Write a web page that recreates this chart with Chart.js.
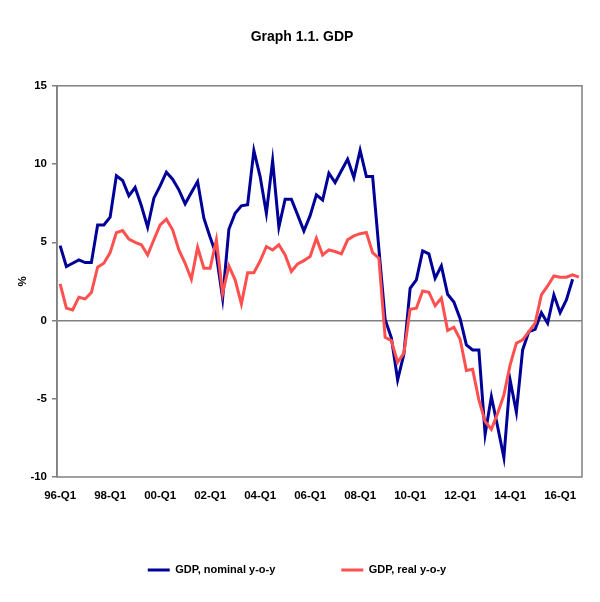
<!DOCTYPE html>
<html>
<head>
<meta charset="utf-8">
<title>Graph 1.1. GDP</title>
<script src="https://cdn.jsdelivr.net/npm/chart.js@4/dist/chart.umd.min.js"></script>
<style>
  html, body { margin: 0; padding: 0; background: #ffffff; }
  #wrap { position: relative; width: 600px; height: 602px; }
</style>
</head>
<body>
<div id="wrap"><canvas id="gdpChart" width="600" height="602"></canvas></div>
<script>
// quarters 96-Q1 .. 16-Q4
const quarters = [
  '96-Q1', '96-Q2', '96-Q3', '96-Q4', '97-Q1', '97-Q2', '97-Q3', '97-Q4',
  '98-Q1', '98-Q2', '98-Q3', '98-Q4', '99-Q1', '99-Q2', '99-Q3', '99-Q4',
  '00-Q1', '00-Q2', '00-Q3', '00-Q4', '01-Q1', '01-Q2', '01-Q3', '01-Q4',
  '02-Q1', '02-Q2', '02-Q3', '02-Q4', '03-Q1', '03-Q2', '03-Q3', '03-Q4',
  '04-Q1', '04-Q2', '04-Q3', '04-Q4', '05-Q1', '05-Q2', '05-Q3', '05-Q4',
  '06-Q1', '06-Q2', '06-Q3', '06-Q4', '07-Q1', '07-Q2', '07-Q3', '07-Q4',
  '08-Q1', '08-Q2', '08-Q3', '08-Q4', '09-Q1', '09-Q2', '09-Q3', '09-Q4',
  '10-Q1', '10-Q2', '10-Q3', '10-Q4', '11-Q1', '11-Q2', '11-Q3', '11-Q4',
  '12-Q1', '12-Q2', '12-Q3', '12-Q4', '13-Q1', '13-Q2', '13-Q3', '13-Q4',
  '14-Q1', '14-Q2', '14-Q3', '14-Q4', '15-Q1', '15-Q2', '15-Q3', '15-Q4',
  '16-Q1', '16-Q2', '16-Q3', '16-Q4'
];

// GDP, nominal y-o-y (%)
const nominalYoY = [
  4.79, 3.45, 3.66, 3.87, 3.70, 3.70, 6.11, 6.11, 6.60, 9.25,
  8.95, 7.97, 8.50, 7.33, 5.96, 7.82, 8.60, 9.48, 9.03, 8.35,
  7.46, 8.18, 8.88, 6.54, 5.32, 4.19, 1.42, 5.83, 6.86, 7.33,
  7.40, 10.86, 9.20, 6.86, 10.22, 5.96, 7.75, 7.75, 6.75, 5.73,
  6.70, 8.03, 7.70, 9.42, 8.82, 9.57, 10.31, 9.14, 10.88, 9.20,
  9.20, 4.60, 0.07, -1.10, -3.80, -2.15, 2.06, 2.60, 4.45, 4.26,
  2.70, 3.49, 1.68, 1.18, 0.12, -1.56, -1.88, -1.88, -7.27, -4.86,
  -6.78, -8.76, -3.80, -5.86, -1.88, -0.71, -0.56, 0.50, -0.17, 1.64,
  0.50, 1.32, 2.64
];

// GDP, real y-o-y (%)
const realYoY = [
  2.34, 0.79, 0.68, 1.49, 1.38, 1.79, 3.41, 3.66, 4.34, 5.62,
  5.75, 5.20, 4.99, 4.84, 4.19, 5.16, 6.11, 6.48, 5.80, 4.51,
  3.66, 2.64, 4.68, 3.34, 3.34, 5.16, 1.74, 3.49, 2.60, 1.06,
  3.06, 3.06, 3.80, 4.73, 4.51, 4.84, 4.19, 3.13, 3.62, 3.83,
  4.09, 5.26, 4.19, 4.51, 4.41, 4.26, 5.16, 5.41, 5.55, 5.62,
  4.34, 3.98, -1.07, -1.28, -2.67, -2.09, 0.72, 0.79, 1.89, 1.81,
  0.94, 1.43, -0.64, -0.43, -1.20, -3.20, -3.12, -5.08, -6.46, -6.95,
  -5.93, -4.76, -2.84, -1.45, -1.24, -0.71, -0.17, 1.64, 2.21, 2.85,
  2.77, 2.77, 2.92, 2.77
];

const yTicks = [-10, -5, 0, 5, 10, 15];
const xLabelEvery = 8;

const FONT = "'Liberation Sans', Arial, sans-serif";

// frame round the plot area, like the Excel plot border
const plotBorder = {
    id: 'plotBorder',
    afterLayout(chart) {
        // move the legend a little up and left, where Excel puts it
        const lg = chart.legend;
        if (lg) {
            lg.top -= 8.5;
            lg.bottom -= 8.5;
            lg.left -= 5;
            lg.right -= 5;
        }
    },
    afterDraw(chart) {
        const { ctx, chartArea } = chart;
        ctx.save();
        ctx.strokeStyle = '#808080';
        ctx.lineWidth = 1.5;
        ctx.strokeRect(chartArea.left, chartArea.top,
            chartArea.right - chartArea.left, chartArea.bottom - chartArea.top);
        ctx.restore();
    }
};

const ctx = document.getElementById('gdpChart');

new Chart(ctx, {
    type: 'line',
    data: {
        labels: quarters,
        datasets: [
            {
                label: 'GDP, nominal y-o-y',
                data: nominalYoY,
                borderColor: '#000099',
                backgroundColor: '#000099',
                borderWidth: 3,
                pointRadius: 0,
                tension: 0,
                order: 1
            },
            {
                label: 'GDP, real y-o-y',
                data: realYoY,
                borderColor: '#FF5050',
                backgroundColor: '#FF5050',
                borderWidth: 3,
                pointRadius: 0,
                tension: 0,
                order: 0
            }
        ]
    },
    options: {
        responsive: false,
        animation: false,
        layout: {
            padding: { left: 22, right: 18, top: 0, bottom: 8 }
        },
        scales: {
            x: {
                type: 'category',
                offset: true,
                grid: { display: false, drawTicks: false },
                border: { display: false },
                afterFit: (scale) => { scale.height = 30; },
                ticks: {
                    autoSkip: false,
                    maxRotation: 0,
                    minRotation: 0,
                    padding: 12,
                    color: '#000000',
                    font: { family: FONT, size: 11.5, weight: 'bold' },
                    callback: function (value, index) {
                        return index % xLabelEvery === 0 ? quarters[index] : '';
                    }
                }
            },
            y: {
                min: yTicks[0],
                max: yTicks[yTicks.length - 1],
                afterBuildTicks: (scale) => {
                    scale.ticks = yTicks.map(v => ({ value: v }));
                },
                afterFit: (scale) => { scale.width = 35; },
                grid: {
                    drawTicks: true,
                    tickLength: 5,
                    tickColor: '#808080',
                    lineWidth: 1.5,
                    color: (c) => (c.tick && c.tick.value === 0 ? '#808080' : 'rgba(0,0,0,0)')
                },
                border: { display: true, color: '#808080', width: 1.5 },
                title: {
                    display: true,
                    text: '%',
                    color: '#000000',
                    padding: { top: -6, bottom: 0 },
                    font: { family: FONT, size: 11.5, weight: 'bold' }
                },
                ticks: {
                    padding: 5,
                    color: '#000000',
                    font: { family: FONT, size: 11.5, weight: 'bold' }
                }
            }
        },
        plugins: {
            title: {
                display: true,
                text: 'Graph 1.1. GDP',
                color: '#000000',
                padding: { top: 29, bottom: 40 },
                font: { family: FONT, size: 14, weight: 'bold' }
            },
            legend: {
                display: true,
                position: 'bottom',
                labels: {
                    boxWidth: 22,
                    boxHeight: 3,
                    padding: 66,
                    color: '#000000',
                    font: { family: FONT, size: 11, weight: 'bold' },
                    sort: (a, b) => a.datasetIndex - b.datasetIndex,
                    generateLabels: (chart) => {
                        const items = Chart.defaults.plugins.legend.labels.generateLabels(chart);
                        return items.map(item => Object.assign(item, { lineWidth: 0 }));
                    }
                }
            },
            tooltip: { enabled: false }
        }
    },
    plugins: [plotBorder]
});
</script>
</body>
</html>
